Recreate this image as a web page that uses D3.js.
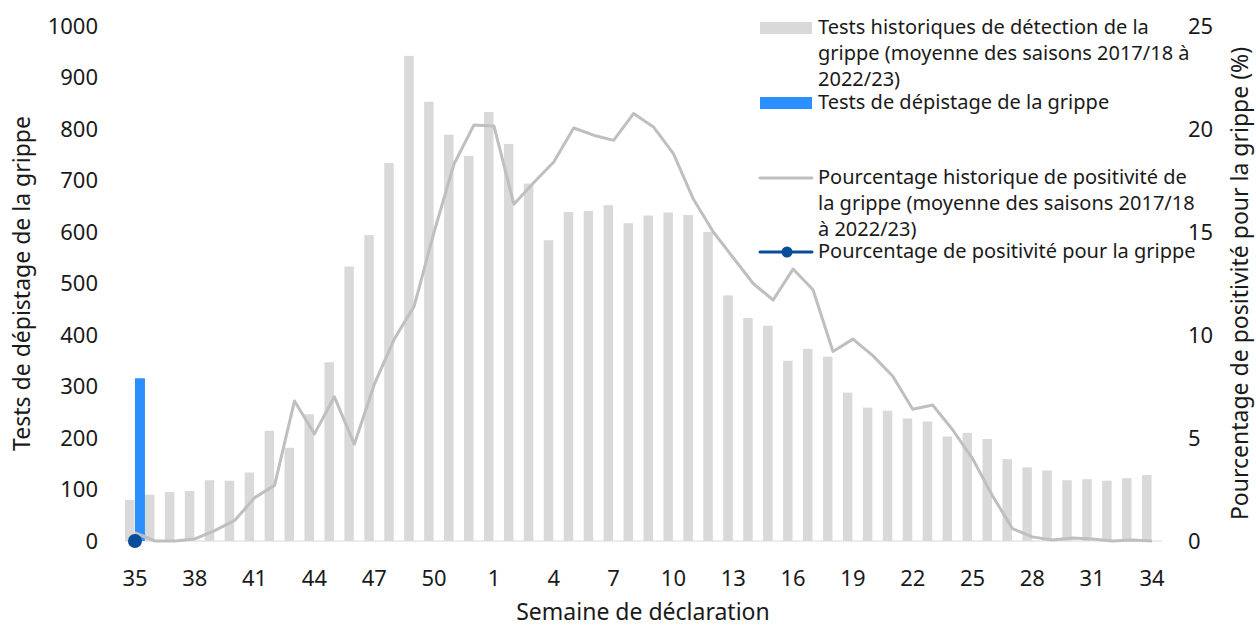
<!DOCTYPE html>
<html>
<head>
<meta charset="utf-8">
<script src="https://cdn.jsdelivr.net/npm/d3@7"></script>
<style>
    body { margin: 0; background: #fff; }
    text { font-family: "Noto Sans", "Open Sans", sans-serif; fill: #1a1a1a; }
</style>
</head>
<body>
<script>
// weeks of the season, 35 -> 52 then 1 -> 34
var weeks = [35,36,37,38,39,40,41,42,43,44,45,46,47,48,49,50,51,52,
    1,2,3,4,5,6,7,8,9,10,11,12,13,14,15,16,17,18,19,20,21,22,23,24,25,26,27,28,29,30,31,32,33,34];

// historical average number of tests (2017/18 to 2022/23)
var histTests = [80,90,95,97,118,117,133,214,181,246,347,533,594,734,942,853,789,748,
    833,771,694,584,639,641,652,617,632,638,633,600,477,433,418,350,373,358,288,259,253,238,232,203,210,198,159,143,137,118,120,117,122,128];

// historical average positivity (%)
var histPct = [0.4,0.0,0.0,0.1,0.5,1.0,2.1,2.7,6.8,5.2,7.0,4.7,7.6,9.8,11.4,15.0,18.3,20.2,
    20.15,16.35,17.4,18.4,20.05,19.7,19.45,20.75,20.1,18.8,16.6,15.0,13.75,12.5,11.7,13.2,12.2,9.2,9.8,9.0,8.0,6.4,6.6,5.4,4.0,2.2,0.6,0.2,0.05,0.15,0.1,0.0,0.05,0.0];

// current season so far
var curWeeks = [35];
var curTests = [316];
var curPct = [0];

var yTicks = [0,100,200,300,400,500,600,700,800,900,1000];
var y2Ticks = [0,5,10,15,20,25];
var xTickWeeks = [35,38,41,44,47,50,1,4,7,10,13,16,19,22,25,28,31,34];

window.onload = function(){

    var w = 1256, h = 626;
    var left = 125, right = 1162, top = 26, bottom = 541;

    var svg = d3.select("body")
        .append("svg")
        .attr("width", w)
        .attr("height", h);

    var x = d3.scaleBand()
        .domain(weeks)
        .range([left, right])
        .padding(0);

    var sub = d3.scaleBand()
        .domain(["hist", "cur"])
        .range([0, x.bandwidth()]);

    var y = d3.scaleLinear()
        .domain([0, 1000])
        .range([bottom, top]);

    var y2 = d3.scaleLinear()
        .domain([0, 25])
        .range([bottom, top]);

    // baseline
    svg.append("line")
        .attr("x1", left)
        .attr("x2", right)
        .attr("y1", bottom)
        .attr("y2", bottom)
        .style("stroke", "#d9d9d9")
        .style("stroke-width", 1);

    // historical bars
    svg.selectAll(".histBar")
        .data(weeks)
        .enter()
        .append("rect")
        .attr("class", "histBar")
        .attr("x", function(d){ return x(d) + sub("hist"); })
        .attr("width", sub.bandwidth() - 0.5)
        .attr("y", function(d,i){ return y(histTests[i]); })
        .attr("height", function(d,i){ return bottom - y(histTests[i]); })
        .style("fill", "#d9d9d9");

    // current bars
    svg.selectAll(".curBar")
        .data(curWeeks)
        .enter()
        .append("rect")
        .attr("class", "curBar")
        .attr("x", function(d){ return x(d) + sub("cur"); })
        .attr("width", sub.bandwidth())
        .attr("y", function(d,i){ return y(curTests[i]); })
        .attr("height", function(d,i){ return bottom - y(curTests[i]); })
        .style("fill", "#2b8fff");

    // historical positivity line
    var histLine = d3.line()
        .x(function(d,i){ return x(weeks[i]) + x.bandwidth() / 2; })
        .y(function(d){ return y2(d); });

    svg.append("path")
        .datum(histPct)
        .attr("d", histLine)
        .style("fill", "none")
        .style("stroke", "#bfbfbf")
        .style("stroke-width", 3)
        .style("stroke-linejoin", "round");

    // current positivity
    var curLine = d3.line()
        .x(function(d,i){ return x(curWeeks[i]) + x.bandwidth() / 2; })
        .y(function(d){ return y2(d); });

    svg.append("path")
        .datum(curPct)
        .attr("d", curLine)
        .style("fill", "none")
        .style("stroke", "#0b4c9a")
        .style("stroke-width", 3);

    svg.selectAll(".curDot")
        .data(curPct)
        .enter()
        .append("circle")
        .attr("class", "curDot")
        .attr("cx", function(d,i){ return x(curWeeks[i]) + x.bandwidth() / 2; })
        .attr("cy", function(d){ return y2(d); })
        .attr("r", 7)
        .style("fill", "#0b4c9a");

    // left axis labels
    svg.selectAll(".yTick")
        .data(yTicks)
        .enter()
        .append("text")
        .attr("class", "yTick")
        .attr("x", 98)
        .attr("y", function(d){ return y(d); })
        .attr("dy", "0.35em")
        .attr("text-anchor", "end")
        .style("font-size", "22px")
        .text(function(d){ return d; });

    // right axis labels
    svg.selectAll(".y2Tick")
        .data(y2Ticks)
        .enter()
        .append("text")
        .attr("class", "y2Tick")
        .attr("x", 1188)
        .attr("y", function(d){ return y2(d); })
        .attr("dy", "0.35em")
        .attr("text-anchor", "start")
        .style("font-size", "22px")
        .text(function(d){ return d; });

    // x labels
    svg.selectAll(".xTick")
        .data(xTickWeeks)
        .enter()
        .append("text")
        .attr("class", "xTick")
        .attr("x", function(d){ return x(d) + x.bandwidth() / 2; })
        .attr("y", 578)
        .attr("dy", "0.35em")
        .attr("text-anchor", "middle")
        .style("font-size", "22px")
        .text(function(d){ return d; });

    // axis titles
    svg.append("text")
        .attr("transform", "translate(30," + (top + bottom) / 2 + ") rotate(-90)")
        .attr("text-anchor", "middle")
        .style("font-size", "23px")
        .text("Tests de dépistage de la grippe");

    svg.append("text")
        .attr("transform", "translate(1248," + (top + bottom) / 2 + ") rotate(-90)")
        .attr("text-anchor", "middle")
        .style("font-size", "23px")
        .text("Pourcentage de positivité pour la grippe (%)");

    svg.append("text")
        .attr("x", 643)
        .attr("y", 620)
        .attr("text-anchor", "middle")
        .style("font-size", "23px")
        .text("Semaine de déclaration");

    // legend
    var legend = [
        { kind: "bar", color: "#d9d9d9", y: 28, lines: ["Tests historiques de détection de la", "grippe (moyenne des saisons 2017/18 à", "2022/23)"] },
        { kind: "bar", color: "#2b8fff", y: 103, lines: ["Tests de dépistage de la grippe"] },
        { kind: "line", color: "#bfbfbf", y: 178, lines: ["Pourcentage historique de positivité de", "la grippe (moyenne des saisons 2017/18", "à 2022/23)"] },
        { kind: "dot", color: "#0b4c9a", y: 252, lines: ["Pourcentage de positivité pour la grippe"] }
    ];

    var items = svg.selectAll(".legendItem")
        .data(legend)
        .enter()
        .append("g")
        .attr("class", "legendItem")
        .attr("transform", function(d){ return "translate(760," + d.y + ")"; });

    items.filter(function(d){ return d.kind == "bar"; })
        .append("rect")
        .attr("x", 0)
        .attr("y", -6)
        .attr("width", 52)
        .attr("height", 12)
        .style("fill", function(d){ return d.color; });

    items.filter(function(d){ return d.kind != "bar"; })
        .append("line")
        .attr("x1", 0)
        .attr("x2", 52)
        .style("stroke", function(d){ return d.color; })
        .style("stroke-width", 3)
        .style("stroke-linecap", "round");

    items.filter(function(d){ return d.kind == "dot"; })
        .append("circle")
        .attr("cx", 27)
        .attr("r", 5.5)
        .style("fill", function(d){ return d.color; });

    var lt = items.append("text")
        .attr("x", 58)
        .attr("y", 6)
        .style("font-size", "20px");

    lt.selectAll("tspan")
        .data(function(d){ return d.lines; })
        .enter()
        .append("tspan")
        .attr("x", 58)
        .attr("dy", function(d,i){ return i == 0 ? 0 : 26; })
        .text(function(d){ return d; });
};
</script>
</body>
</html>
